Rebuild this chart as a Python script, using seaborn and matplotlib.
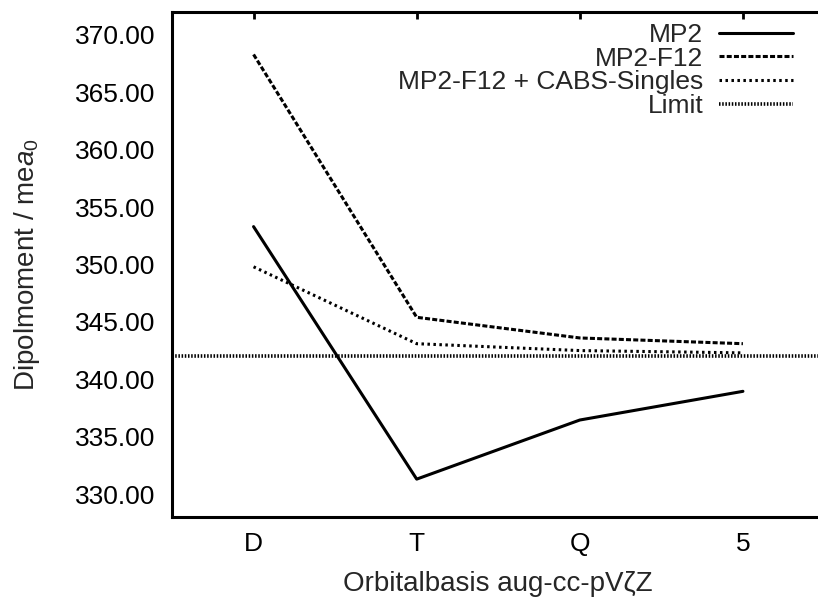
import matplotlib
matplotlib.use("Agg")
import matplotlib.pyplot as plt
import seaborn as sns
import pandas as pd
from matplotlib.ticker import FormatStrFormatter

categories = ["D", "T", "Q", "5"]
mp2 = [353.3, 331.3, 336.45, 338.95]
mp2_f12 = [368.3, 345.4, 343.6, 343.1]
mp2_f12_cabs = [349.8, 343.1, 342.5, 342.3]
limit = 342.0

sns.set_theme(style="white")
plt.rcParams["font.family"] = ["Liberation Sans", "DejaVu Sans"]
plt.rcParams["mathtext.fontset"] = "custom"
plt.rcParams["mathtext.rm"] = "Liberation Sans"
plt.rcParams["mathtext.it"] = "Liberation Sans:italic"
plt.rcParams["lines.scale_dashes"] = False

FS = 19
LFS = 20

fig = plt.figure(figsize=(8.18, 6.0), dpi=100)
ax = fig.add_axes([172 / 818, 1 - 517 / 600, (824.5 - 172) / 818, (517 - 12) / 600])

x = list(range(len(categories)))
df = pd.DataFrame({"x": x, "MP2": mp2, "MP2-F12": mp2_f12, "CABS": mp2_f12_cabs})

lw = 2.2
sns.lineplot(data=df, x="x", y="MP2", ax=ax, color="black", linewidth=lw,
             linestyle="-", label="MP2")
sns.lineplot(data=df, x="x", y="MP2-F12", ax=ax, color="black", linewidth=lw,
             linestyle=(0, (3.6, 1.6)), label="MP2-F12")
sns.lineplot(data=df, x="x", y="CABS", ax=ax, color="black", linewidth=lw,
             linestyle=(0, (1.8, 2.5)), label="MP2-F12 + CABS-Singles")
ax.axhline(limit, color="black", linewidth=2.6, linestyle=(0, (1.1, 1.2)), label="Limit")

ax.set_xlim(-0.5, 3.5)
ax.set_ylim(328, 372)
ax.set_xticks(x)
ax.set_xticklabels(categories)
ax.set_yticks([330, 335, 340, 345, 350, 355, 360, 365, 370])
ax.yaxis.set_major_formatter(FormatStrFormatter("%.2f"))

for s in ax.spines.values():
    s.set_linewidth(2.2)
    s.set_color("black")
ax.tick_params(axis="both", which="major", direction="in", length=5, width=2,
               top=True, right=True, labelsize=FS, colors="black")
ax.tick_params(axis="y", pad=12)
ax.tick_params(axis="x", pad=10.5)

ax.set_xlabel("Orbitalbasis aug-cc-pVζZ", fontsize=LFS, labelpad=11)
ax.set_ylabel(r"Dipolmoment / me$a_0$", fontsize=LFS, labelpad=24)

leg = ax.legend(loc="upper right", bbox_to_anchor=(793 / 818, 1 - 23 / 600),
                bbox_transform=fig.transFigure, frameon=False, markerfirst=False,
                fontsize=FS, handlelength=2.8, labelspacing=-0.01, borderpad=0,
                borderaxespad=0, handletextpad=0.6)

fig.savefig("out.png", dpi=100)
